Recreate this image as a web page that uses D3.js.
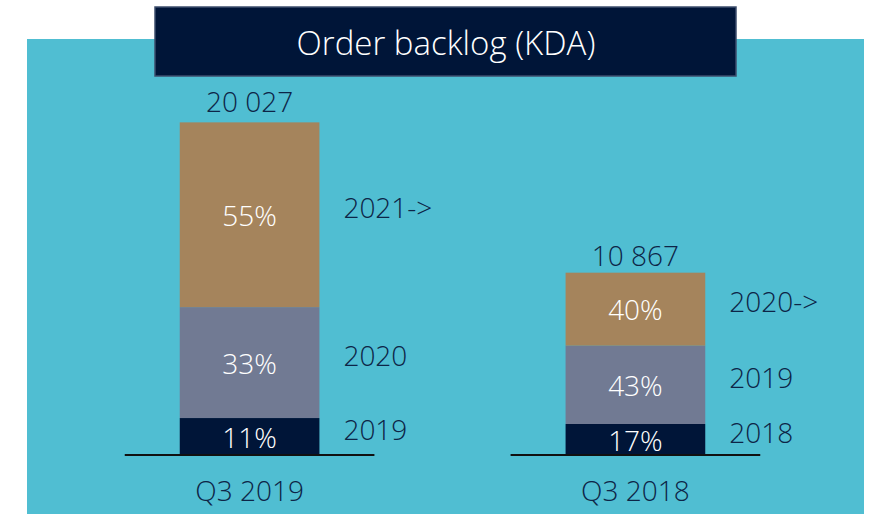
<!DOCTYPE html>
<html>
<head>
<meta charset="UTF-8">
<title>Order backlog</title>
<script src="https://d3js.org/d3.v7.min.js"></script>
<style>
    body { margin: 0; background: #ffffff; }
    text { font-family: "Open Sans", sans-serif; font-weight: 300; }
    .dark { fill: #0d2547; }
    .light { fill: #ffffff; }
</style>
</head>
<body>
<script>
    // data
    var quarters = ["Q3 2019", "Q3 2018"];
    var totals = [20027, 10867];
    var totalLabels = ["20 027", "10 867"];
    var shares2019 = [11, 33, 55];      // bottom -> top, % of Q3 2019 backlog
    var shares2018 = [17, 43, 40];      // bottom -> top, % of Q3 2018 backlog
    var years2019 = ["2019", "2020", "2021->"];
    var years2018 = ["2018", "2019", "2020->"];
    var segmentColors = ["#001538", "#717a93", "#a5845c"];

    var W = 869, H = 514;
    var svg = d3.select("body").append("svg")
        .attr("width", W).attr("height", H);

    // teal panel and title box
    svg.append("rect").attr("x", 27).attr("y", 39).attr("width", 837).attr("height", H - 39)
        .attr("fill", "#50bed2");
    svg.append("rect").attr("x", 155).attr("y", 7).attr("width", 581).attr("height", 69)
        .attr("fill", "#001538").attr("stroke", "#3c4d6c").attr("stroke-width", 1.5);
    svg.append("text").attr("class", "light")
        .attr("x", 446).attr("y", 42)
        .attr("text-anchor", "middle").attr("dominant-baseline", "central")
        .style("font-size", "33px")
        .text("Order backlog (KDA)");

    var bars = quarters.map(function (q, i) {
        var shares = i === 0 ? shares2019 : shares2018;
        var years = i === 0 ? years2019 : years2018;
        var y0 = 0;
        var segs = shares.map(function (s, j) {
            var v = totals[i] * s / 100;
            var seg = { q: q, y0: y0, y1: y0 + v, share: s, year: years[j], color: segmentColors[j] };
            y0 += v;
            return seg;
        });
        return { quarter: q, total: totals[i], label: totalLabels[i], segs: segs };
    });

    var x = d3.scaleBand().domain(quarters).range([64, 821]).paddingInner(0.638).paddingOuter(0.3);
    var y = d3.scaleLinear().domain([0, 20027]).range([455, 119]);

    var g = svg.selectAll("g.bar").data(bars).enter().append("g").attr("class", "bar");

    g.selectAll("rect").data(function (d) { return d.segs; }).enter().append("rect")
        .attr("x", function (d) { return x(d.q); })
        .attr("width", x.bandwidth())
        .attr("y", function (d) { return y(d.y1); })
        .attr("height", function (d) { return y(d.y0) - y(d.y1); })
        .attr("fill", function (d) { return d.color; });

    // percentage labels inside segments
    g.selectAll("text.pct").data(function (d) { return d.segs; }).enter().append("text")
        .attr("class", "pct light")
        .attr("x", function (d) { return x(d.q) + x.bandwidth() / 2; })
        .attr("y", function (d) { return (y(d.y0) + y(d.y1)) / 2; })
        .attr("text-anchor", "middle").attr("dominant-baseline", "central")
        .style("font-size", "28px")
        .text(function (d) { return d.share + "%"; });

    // year labels right of segments
    g.selectAll("text.yr").data(function (d) { return d.segs; }).enter().append("text")
        .attr("class", "yr dark")
        .attr("x", function (d) { return x(d.q) + x.bandwidth() + 24; })
        .attr("y", function (d) { return (y(d.y0) + y(d.y1)) / 2 - 8; })
        .attr("dominant-baseline", "central")
        .style("font-size", "28px")
        .text(function (d) { return d.year; });

    // totals above bars
    g.append("text").attr("class", "dark")
        .attr("x", function (d) { return x(d.quarter) + x.bandwidth() / 2; })
        .attr("y", function (d) { return y(d.total) - 18; })
        .attr("text-anchor", "middle").attr("dominant-baseline", "central")
        .style("font-size", "28px")
        .text(function (d) { return d.label; });

    // baseline under each bar
    g.append("line")
        .attr("x1", function (d) { return x(d.quarter) - 55; })
        .attr("x2", function (d) { return x(d.quarter) + x.bandwidth() + 55; })
        .attr("y1", y(0)).attr("y2", y(0))
        .attr("stroke", "#111111").attr("stroke-width", 2);

    // category labels
    g.append("text").attr("class", "dark")
        .attr("x", function (d) { return x(d.quarter) + x.bandwidth() / 2; })
        .attr("y", 490)
        .attr("text-anchor", "middle").attr("dominant-baseline", "central")
        .style("font-size", "28px")
        .text(function (d) { return d.quarter; });
</script>
</body>
</html>
